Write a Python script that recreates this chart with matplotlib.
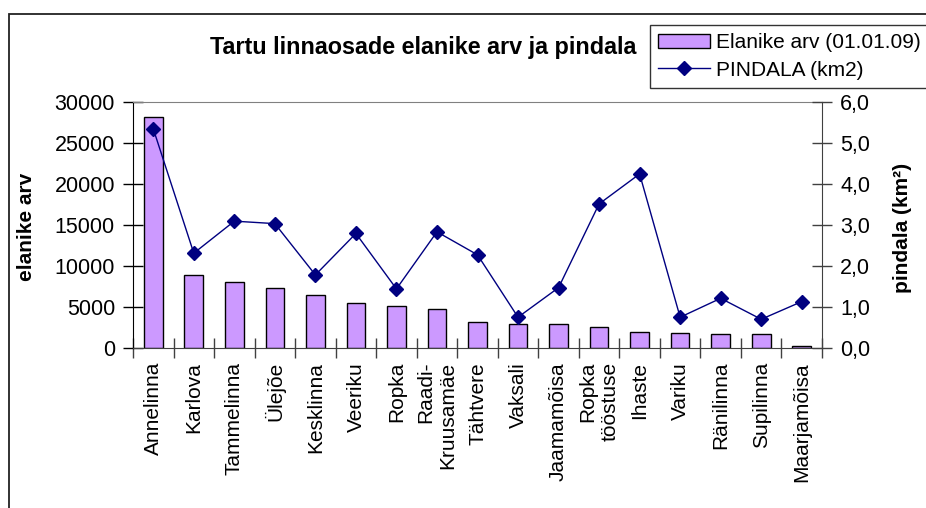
import matplotlib
matplotlib.use("Agg")
import matplotlib.pyplot as plt
import matplotlib.patches as patches
from matplotlib.ticker import FuncFormatter
import numpy as np

plt.rcParams['font.family'] = ['Liberation Sans', 'DejaVu Sans']

# Tartu linnaosad: elanike arv (01.01.09) ja pindala (km2)
districts = ['Annelinna', 'Karlova', 'Tammelinna', 'Ülejõe', 'Kesklinna', 'Veeriku',
             'Ropka', 'Raadi-\nKruusamäe', 'Tähtvere', 'Vaksali', 'Jaamamõisa',
             'Ropka\ntööstuse', 'Ihaste', 'Variku', 'Ränilinna', 'Supilinna', 'Maarjamõisa']
population = [28100, 8900, 8050, 7300, 6500, 5500, 5100, 4750, 3200, 2950, 2950,
              2500, 2000, 1800, 1650, 1650, 250]
area = [5.34, 2.31, 3.09, 3.03, 1.78, 2.79, 1.44, 2.83, 2.27, 0.75, 1.47,
        3.51, 4.24, 0.75, 1.21, 0.70, 1.13]

x = np.arange(len(districts))

fig = plt.figure(figsize=(9.26, 5.08), dpi=100)
ax = fig.add_axes([133 / 926, 1 - 348 / 508, 689 / 926, 246.3 / 508])

bars = ax.bar(x, population, width=0.46, color='#CC99FF', edgecolor='black',
              linewidth=1.0, label='Elanike arv (01.01.09)', zorder=2)

ax2 = ax.twinx()
line, = ax2.plot(x, area, color='#000080', marker='D', markersize=7, linewidth=1.0,
                 label='PINDALA (km2)')

ax.set_xlim(-0.5, len(districts) - 0.5)
ax.set_ylim(0, 30000)
ax2.set_ylim(0, 6)
ax.set_yticks(range(0, 30001, 5000))
ax2.set_yticks(np.arange(0, 6.01, 1))
ax2.yaxis.set_major_formatter(FuncFormatter(lambda v, p: f"{v:.1f}".replace('.', ',')))

# category labels at centres, tick marks between categories
ax.set_xticks(x)
ax.set_xticklabels(districts, rotation=90, ha='center', va='top', multialignment='right',
                   fontsize=15)
ax.set_xticks(np.arange(-0.5, len(districts), 1), minor=True)
ax.tick_params(axis='x', which='major', length=0, pad=10)
ax.tick_params(axis='x', which='minor', direction='inout', length=14, width=1, color='#404040')
ax.tick_params(axis='y', direction='inout', length=14, width=1, labelsize=15.5, pad=6)
ax2.tick_params(axis='y', direction='inout', length=14, width=1, labelsize=15.5, pad=6,
                color='#404040')

ax.spines['top'].set_color('#808080')
ax.spines['right'].set_visible(False)
ax.spines['bottom'].set_color('#404040')
ax.spines['left'].set_color('black')
for side in ['top', 'left', 'bottom']:
    ax2.spines[side].set_visible(False)
ax2.spines['right'].set_color('#404040')

fig.text(423 / 926, 1 - 47 / 508, 'Tartu linnaosade elanike arv ja pindala',
         fontweight='bold', fontsize=16.8, ha='center', va='center')
fig.text(27 / 926, 1 - 227 / 508, 'elanike arv', fontweight='bold', fontsize=15,
         rotation=90, ha='center', va='center')
fig.text(902 / 926, 1 - 228 / 508, 'pindala (km²)', fontweight='bold', fontsize=15,
         rotation=90, ha='center', va='center')

leg = fig.legend([bars, line], ['Elanike arv (01.01.09)', 'PINDALA (km2)'],
                 loc='upper left', bbox_to_anchor=(650 / 926, 1 - 25 / 508),
                 fontsize=15, frameon=True, fancybox=False, edgecolor='black',
                 borderpad=0.4, borderaxespad=0, handlelength=2.5, handletextpad=0.25,
                 labelspacing=0.4)
leg.get_frame().set_linewidth(1.0)

fig.add_artist(patches.Rectangle((8.5 / 926, -0.1), 1.2, 1 - 14 / 508 + 0.1,
                                 transform=fig.transFigure, fill=False,
                                 edgecolor='#222222', linewidth=1.3))

fig.savefig('out.png', dpi=100)
